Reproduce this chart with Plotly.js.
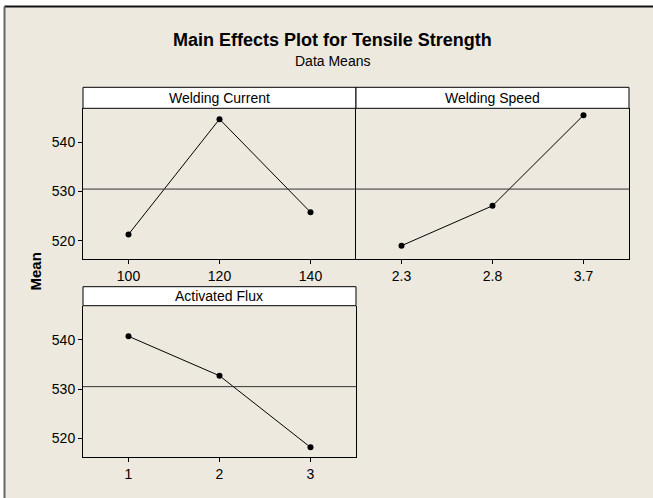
<!DOCTYPE html>
<html>
<head>
<meta charset="utf-8">
<script src="https://cdn.plot.ly/plotly-3.0.1.min.js"></script>
<style>html,body{margin:0;padding:0;background:#fff}#chart{width:653px;height:498px}</style>
</head>
<body>
<div id="chart"></div>
<script>
// ---- data ----
const factorNames = ["Welding Current", "Welding Speed", "Activated Flux"];
const currentLevels = ["100", "120", "140"];
const currentMeans = [521.3, 544.7, 525.8];
const speedLevels = ["2.3", "2.8", "3.7"];
const speedMeans = [519.0, 527.1, 545.5];
const fluxLevels = ["1", "2", "3"];
const fluxMeans = [540.7, 532.7, 518.2];
const grandMean = 530.5;
const yTicks = [520, 530, 540];
const titleText = "Main Effects Plot for Tensile Strength";
const subtitleText = "Data Means";
const yLabel = "Mean";

// ---- layout helpers ----
const W = 653, H = 498;
const px = v => v / W;
const py = v => 1 - v / H;
const FONT = "Liberation Sans, Arial, sans-serif";
const bg = "#EDE9DF";

const panels = [
  {xa: "x", ya: "y", levels: currentLevels, means: currentMeans, name: factorNames[0], x0: 83, x1: 356, y0: 108.3, y1: 259, st: 87.3, mirror: false},
  {xa: "x2", ya: "y2", levels: speedLevels, means: speedMeans, name: factorNames[1], x0: 356, x1: 629, y0: 108.3, y1: 259, st: 87.3, mirror: true},
  {xa: "x3", ya: "y3", levels: fluxLevels, means: fluxMeans, name: factorNames[2], x0: 83, x1: 356, y0: 305.7, y1: 456.7, st: 286.7, mirror: true}
];

const traces = panels.map(p => ({
  type: "scatter", mode: "lines+markers",
  x: p.levels, y: p.means, xaxis: p.xa, yaxis: p.ya,
  line: {color: "#000", width: 1},
  marker: {color: "#000", size: 6},
  hoverinfo: "x+y", showlegend: false
}));

const yRange = [516.3, 546.9];
const layout = {
  width: W, height: H,
  margin: {l: 0, r: 0, t: 0, b: 0},
  paper_bgcolor: "#fff",
  plot_bgcolor: "#fff",
  showlegend: false,
  font: {family: FONT, size: 14, color: "#000"},
  shapes: [
    {type: "rect", xref: "paper", yref: "paper", x0: px(5), x1: 1, y0: 0, y1: py(7), fillcolor: bg, line: {width: 0}, layer: "below"},
    {type: "line", xref: "paper", yref: "paper", x0: px(4.5), x1: 1, y0: py(6.5), y1: py(6.5), line: {color: "#111", width: 2}},
    {type: "line", xref: "paper", yref: "paper", x0: px(4.5), x1: px(4.5), y0: 0, y1: py(6.5), line: {color: "#666", width: 2}}
  ],
  annotations: [
    {text: "<b>" + titleText + "</b>", xref: "paper", yref: "paper", x: px(332), y: py(40), showarrow: false, font: {size: 18, family: FONT}, xanchor: "center", yanchor: "middle"},
    {text: subtitleText, xref: "paper", yref: "paper", x: px(332), y: py(61), showarrow: false, font: {size: 14, family: FONT}, xanchor: "center", yanchor: "middle"},
    {text: "<b>" + yLabel + "</b>", xref: "paper", yref: "paper", x: px(35), y: py(271.5), textangle: -90, showarrow: false, font: {size: 15, family: FONT}, xanchor: "center", yanchor: "middle"}
  ]
};

panels.forEach((p, i) => {
  const sfx = i === 0 ? "" : String(i + 1);
  layout["xaxis" + sfx] = {
    domain: [px(p.x0), px(p.x1)], anchor: p.ya, type: "category", range: [-0.5, 2.5],
    showline: true, linecolor: "#000", linewidth: 1, mirror: false,
    ticks: "outside", ticklen: 4, tickcolor: "#000", showgrid: false, zeroline: false,
    tickfont: {size: 14, family: FONT}, fixedrange: true
  };
  layout["yaxis" + sfx] = {
    domain: [py(p.y1), py(p.y0)], anchor: p.xa, range: yRange,
    showline: true, linecolor: "#000", linewidth: 1, mirror: p.mirror,
    tickvals: yTicks, ticks: i === 1 ? "" : "outside", ticklen: 4, tickcolor: "#000",
    showticklabels: i !== 1, showgrid: false, zeroline: false,
    tickfont: {size: 14, family: FONT}, fixedrange: true
  };
  // grand mean reference line
  layout.shapes.push({type: "line", xref: p.xa + " domain", yref: p.ya, x0: 0, x1: 1, y0: grandMean, y1: grandMean, line: {color: "#333", width: 1}});
  // strip
  layout.shapes.push({type: "rect", xref: "paper", yref: "paper", x0: px(p.x0), x1: px(p.x1), y0: py(p.y0), y1: py(p.st), fillcolor: "#fff", line: {color: "#000", width: 1}});
  layout.annotations.push({text: p.name, xref: "paper", yref: "paper", x: (px(p.x0) + px(p.x1)) / 2, y: (py(p.y0) + py(p.st)) / 2, showarrow: false, xanchor: "center", yanchor: "middle", font: {size: 14, family: FONT}});
});

Plotly.newPlot("chart", traces, layout, {displayModeBar: false, staticPlot: true});
</script>
</body>
</html>
